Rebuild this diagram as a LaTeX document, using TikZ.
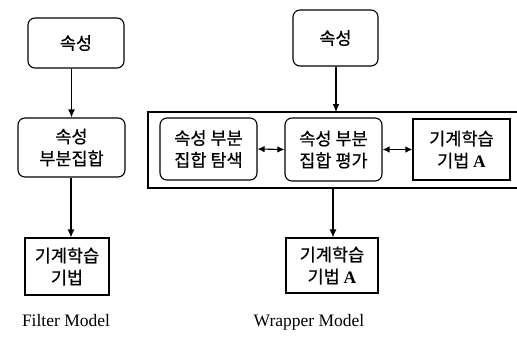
\documentclass[tikz,border=0pt]{standalone}
\usepackage{fontspec}
\setmainfont{Liberation Serif}
\newfontfamily\kr[FakeBold=0.6]{Noto Sans CJK KR}
\usetikzlibrary{arrows.meta}
\tikzset{
  base/.style={draw, line width=1.1pt, align=center, inner sep=0pt,
    font=\kr\fontsize{17.5}{22}\selectfont},
  rbox/.style={base, rounded corners=7pt},
  sbox/.style={base},
  arr/.style={line width=1.1pt, -{Latex[length=8pt,width=7pt]}},
  darr/.style={line width=1.1pt, {Latex[length=7pt,width=6.5pt]}-{Latex[length=7pt,width=6.5pt]}},
  captxt/.style={font=\fontsize{17.5}{20}\selectfont}
}
\newcommand{\bA}{{\rmfamily\bfseries A}}
\begin{document}
\begin{tikzpicture}[x=1pt,y=-1pt]
\useasboundingbox (0,0) rectangle (517,341);
% Filter model
\node[rbox, minimum width=96pt, minimum height=50pt] (f1) at (76,43) {속성};
\node[rbox, minimum width=107pt, minimum height=59pt] (f2) at (71.5,147.5) {속성\\부분집합};
\node[sbox, minimum width=84pt, minimum height=57pt] (f3) at (67,266.5) {기계학습\\기법};
\draw[arr] (f2.north |- f1.south) -- (f2.north);
\draw[arr] (f2.south -| 71,0) -- (f3.north -| 71,0);
\node[captxt] (fl) at (66,321) {Filter Model};
% Wrapper model
\node[rbox, minimum width=85pt, minimum height=56pt] (w1) at (335.5,38) {속성};
\coordinate (ftl) at (148,112);
\coordinate (ftr) at (517,112);
\coordinate (fbl) at (148,188);
\coordinate (fbr) at (517,188);
\draw[line width=1.1pt] (ftr) -- (ftl) -- (fbl) -- (fbr);
\coordinate (ft) at (336,112);
\coordinate (fb) at (333,188);
\node[rbox, minimum width=97pt, minimum height=62pt] (w2) at (208.5,149) {속성 부분\\집합 탐색};
\node[rbox, minimum width=97pt, minimum height=63pt] (w3) at (333.5,149.5) {속성 부분\\집합 평가};
\node[sbox, minimum width=97pt, minimum height=61pt] (w4) at (461.5,149.5) {기계학습\\기법 \bA};
\node[sbox, minimum width=92pt, minimum height=55pt] (w5) at (332,265.5) {기계학습\\기법 \bA};
\draw[arr] (w1.south -| ft) -- (ft);
\draw[arr] (fb) -- (fb |- w5.north);
\draw[darr] (w2.east) -- (w3.west);
\draw[darr] (w3.east) -- (w4.west);
\node[captxt] (wl) at (309,322) {Wrapper Model};
\end{tikzpicture}
\end{document}
